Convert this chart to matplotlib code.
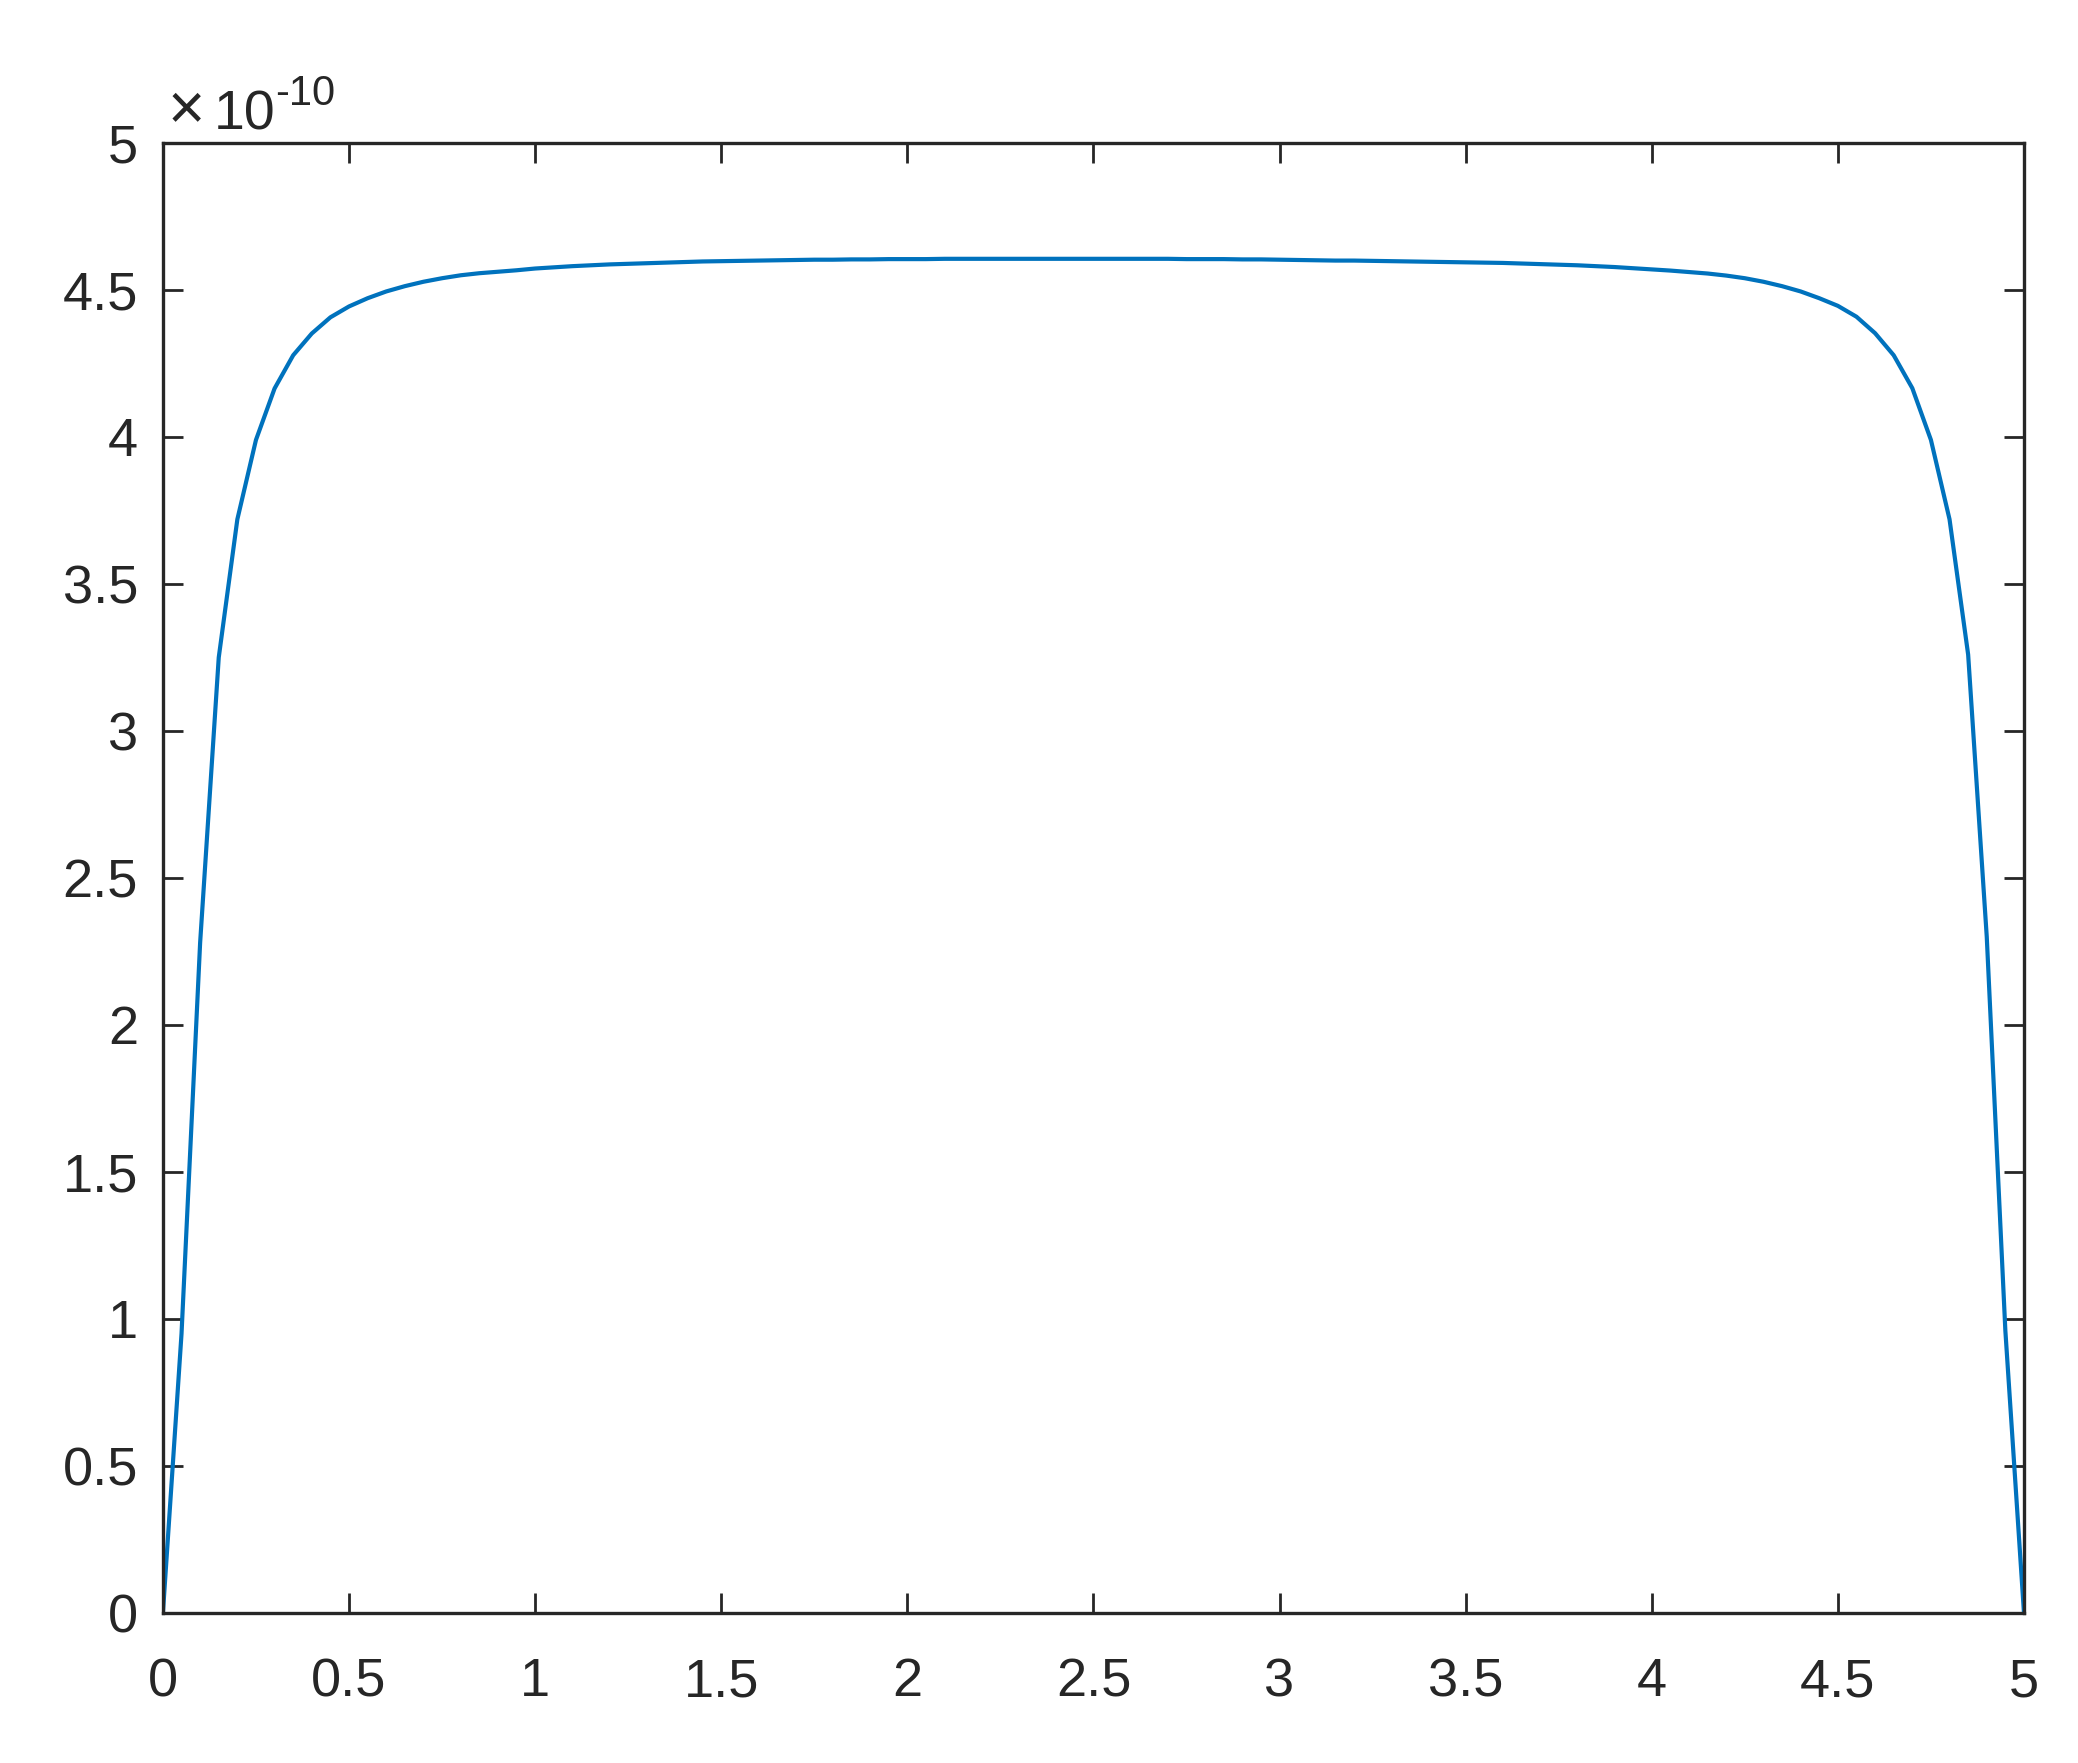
import numpy as np
import matplotlib.pyplot as plt
from matplotlib.ticker import FuncFormatter

plt.rcParams['font.family'] = ['Liberation Sans', 'DejaVu Sans']

# samples along x, step 0.05
x = np.linspace(0, 5, 101)

# curve values in units of 1e-10
y_left = [0.0, 0.95, 2.28, 3.25, 3.72, 3.99, 4.165, 4.278, 4.352, 4.407,
          4.444, 4.472, 4.495, 4.513, 4.528, 4.540, 4.550, 4.557, 4.562, 4.567,
          4.573, 4.577, 4.581, 4.584, 4.587, 4.589, 4.591, 4.593, 4.595, 4.597,
          4.598, 4.599, 4.600, 4.601, 4.602, 4.603, 4.603, 4.604, 4.604, 4.605,
          4.605, 4.605, 4.606, 4.606, 4.606, 4.606, 4.606, 4.606, 4.606, 4.606]
y_mid = [4.606]
y_right = [4.606, 4.606, 4.606, 4.606, 4.606, 4.605, 4.605, 4.605, 4.604, 4.604,
           4.603, 4.602, 4.601, 4.600, 4.600, 4.599, 4.598, 4.597, 4.596, 4.595,
           4.594, 4.593, 4.592, 4.590, 4.588, 4.586, 4.584, 4.581, 4.578, 4.574,
           4.570, 4.566, 4.561, 4.556, 4.549, 4.540, 4.528, 4.513, 4.495, 4.472,
           4.446, 4.409, 4.353, 4.278, 4.166, 3.99, 3.72, 3.26, 2.30, 0.96, 0.0]
y = np.array(y_left + y_mid + y_right[1:]) * 1e-10

xticks = np.arange(0, 5.01, 0.5)
yticks = np.arange(0, 5.01, 0.5) * 1e-10

fig = plt.figure(figsize=(10.39, 8.815), dpi=200)
ax = fig.add_axes([0.0784, 0.0851, 0.974 - 0.0784, 0.9189 - 0.0851])

ax.plot(x, y, color='#0072BD', linewidth=1.5)

ax.set_xlim(0, 5)
ax.set_ylim(0, 5e-10)
ax.set_xticks(xticks)
ax.set_yticks(yticks)
ax.xaxis.set_major_formatter(FuncFormatter(lambda v, p: '%g' % v))
ax.yaxis.set_major_formatter(FuncFormatter(lambda v, p: '%g' % round(v * 1e10, 2)))

ax.tick_params(direction='in', length=7.2, width=1.0, color='#262626',
               labelcolor='#262626', labelsize=19.5, top=True, right=True)
ax.tick_params(axis='y', pad=9)
ax.tick_params(axis='x', pad=16)
for s in ax.spines.values():
    s.set_color('#262626')
    s.set_linewidth(1.2)

# exponent label, MATLAB style
fig.text(168 / 2078, 1 - 129 / 1763, '\u00d7', fontsize=23, color='#262626',
         ha='left', va='baseline')
fig.text(214 / 2078, 1 - 130 / 1763, '10', fontsize=20, color='#262626',
         ha='left', va='baseline')
fig.text(275 / 2078, 1 - 105 / 1763, '-10', fontsize=15, color='#262626',
         ha='left', va='baseline')

fig.savefig('out.png', dpi=200)
